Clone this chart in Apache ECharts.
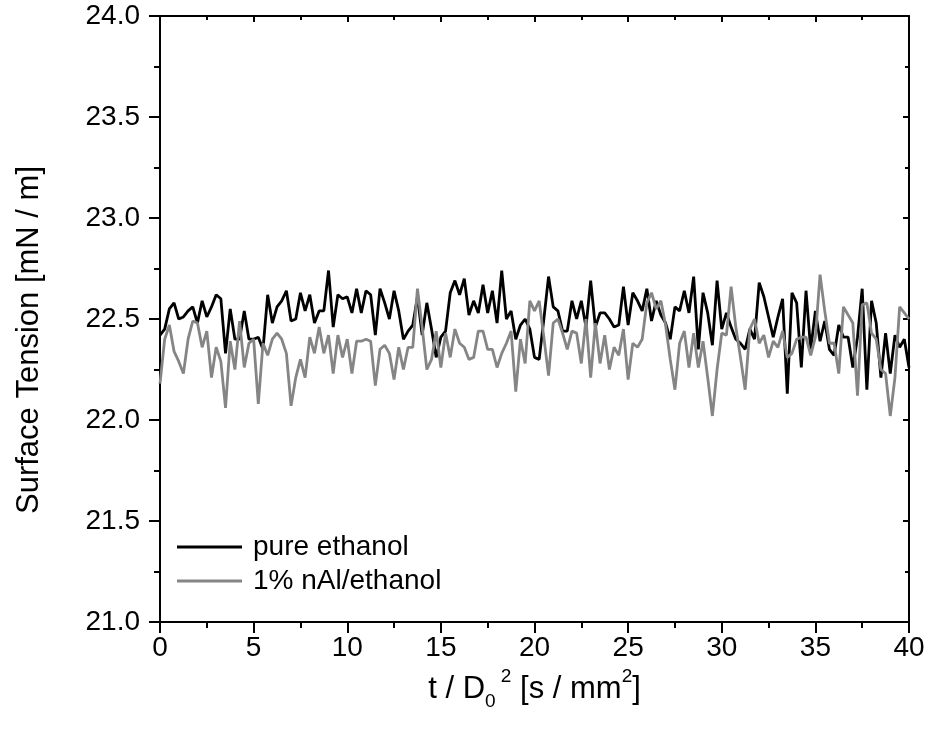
<!DOCTYPE html>
<html>
<head>
<meta charset="utf-8">
<script src="https://cdn.jsdelivr.net/npm/echarts@6/dist/echarts.min.js"></script>
<style>
html,body{margin:0;padding:0;background:#fff;}
#chart{width:929px;height:733px;}
</style>
</head>
<body>
<div id="chart"></div>
<script>
// Sampling step of the time axis, t / D0^2 [s/mm^2]
const timeStep = 0.25;
const seriesNames = ['pure ethanol', '1% nAl/ethanol'];
const xTicks = [0, 5, 10, 15, 20, 25, 30, 35, 40];
const yTicks = [21.0, 21.5, 22.0, 22.5, 23.0, 23.5, 24.0];
const yTitle = 'Surface Tension [mN / m]';

const pureEthanol = [
22.42,22.45,22.55,22.58,22.50,22.51,22.54,22.56,22.48,22.59,
22.51,22.56,22.62,22.60,22.33,22.55,22.40,22.40,22.54,22.40,
22.40,22.41,22.35,22.62,22.48,22.56,22.59,22.64,22.49,22.50,
22.63,22.54,22.62,22.48,22.54,22.54,22.74,22.46,22.62,22.60,
22.61,22.53,22.65,22.53,22.64,22.62,22.42,22.65,22.58,22.50,
22.64,22.54,22.40,22.44,22.47,22.61,22.42,22.58,22.45,22.31,
22.41,22.44,22.63,22.69,22.62,22.70,22.52,22.59,22.53,22.67,
22.53,22.64,22.48,22.74,22.50,22.54,22.40,22.47,22.50,22.45,
22.31,22.30,22.50,22.71,22.56,22.54,22.44,22.44,22.59,22.50,
22.59,22.46,22.69,22.46,22.53,22.53,22.50,22.46,22.47,22.66,
22.47,22.63,22.59,22.54,22.65,22.49,22.59,22.52,22.48,22.40,
22.56,22.54,22.64,22.53,22.71,22.35,22.63,22.53,22.37,22.69,
22.45,22.53,22.46,22.40,22.38,22.35,22.45,22.40,22.68,22.61,
22.51,22.41,22.51,22.60,22.13,22.63,22.58,22.26,22.64,22.35,
22.54,22.39,22.49,22.35,22.32,22.47,22.41,22.41,22.26,22.41,
22.65,22.15,22.59,22.48,22.21,22.43,22.23,22.42,22.36,22.40,
22.26
];

const nAlEthanol = [
22.18,22.40,22.47,22.34,22.29,22.23,22.40,22.49,22.48,22.36,
22.44,22.21,22.36,22.29,22.06,22.39,22.25,22.49,22.26,22.38,
22.40,22.08,22.38,22.32,22.40,22.43,22.40,22.33,22.07,22.21,
22.30,22.21,22.41,22.33,22.46,22.33,22.42,22.23,22.42,22.31,
22.40,22.23,22.39,22.39,22.40,22.39,22.17,22.35,22.37,22.33,
22.20,22.36,22.25,22.36,22.36,22.65,22.46,22.25,22.30,22.44,
22.26,22.43,22.31,22.45,22.38,22.36,22.30,22.31,22.44,22.44,
22.35,22.35,22.26,22.33,22.38,22.44,22.14,22.40,22.28,22.59,
22.54,22.59,22.41,22.22,22.48,22.50,22.43,22.35,22.44,22.43,
22.28,22.50,22.21,22.48,22.28,22.42,22.25,22.36,22.32,22.45,
22.20,22.38,22.36,22.40,22.58,22.63,22.55,22.59,22.47,22.30,
22.15,22.38,22.44,22.26,22.43,22.26,22.39,22.21,22.02,22.25,
22.43,22.42,22.66,22.46,22.31,22.15,22.45,22.50,22.38,22.42,
22.31,22.39,22.36,22.44,22.31,22.33,22.40,22.41,22.41,22.32,
22.41,22.72,22.54,22.38,22.38,22.23,22.56,22.52,22.48,22.12,
22.57,22.58,22.43,22.40,22.25,22.23,22.02,22.21,22.56,22.53,
22.50
];

function toPairs(values) {
  return values.map((v, i) => [i * timeStep, v]);
}

const FONT = "'Liberation Sans', Arial, sans-serif";
const chart = echarts.init(document.getElementById('chart'), null, {renderer: 'canvas'});

const axisLine = {show: true, onZero: false, lineStyle: {color: '#000', width: 2}};

chart.setOption({
  backgroundColor: '#fff',
  animation: false,
  textStyle: {fontFamily: FONT},
  grid: {left: 160, right: 20, top: 16, bottom: 111, containLabel: false},
  legend: {
    orient: 'vertical',
    left: 172,
    top: 528,
    icon: 'rect',
    itemWidth: 65,
    itemHeight: 3,
    itemGap: 6,
    data: seriesNames,
    textStyle: {fontFamily: FONT, fontSize: 28, color: '#000', padding: [0, 0, 0, 6]}
  },
  graphic: [{
    type: 'text',
    x: 29,
    y: 340,
    rotation: Math.PI / 2,
    silent: true,
    style: {
      text: yTitle,
      fontFamily: FONT,
      fontSize: 31,
      fill: '#000',
      align: 'center',
      verticalAlign: 'middle'
    }
  }],
  xAxis: [{
    type: 'value',
    min: 0, max: 40, interval: 5,
    position: 'bottom',
    axisLine: axisLine,
    axisTick: {show: true, inside: false, length: 11, lineStyle: {color: '#000', width: 2}},
    minorTick: {show: true, splitNumber: 2, length: 6, lineStyle: {color: '#000', width: 2}},
    splitLine: {show: false},
    axisLabel: {
      margin: 12, fontSize: 28, color: '#000', fontFamily: FONT,
      customValues: xTicks
    },
    name: '{n|t / D}{sub|0}{sup| 2}{n| [s / mm}{sup|2}{n|]}',
    nameLocation: 'middle',
    nameGap: 45,
    nameTextStyle: {
      fontFamily: FONT, color: '#000', fontSize: 31, lineHeight: 44,
      rich: {
        n: {fontSize: 31, fontFamily: FONT, color: '#000'},
        sub: {fontSize: 19, fontFamily: FONT, color: '#000', verticalAlign: 'bottom'},
        sup: {fontSize: 19, fontFamily: FONT, color: '#000', verticalAlign: 'top'}
      }
    }
  }, {
    type: 'value',
    min: 0, max: 40, interval: 5,
    position: 'top',
    axisLine: axisLine,
    axisTick: {show: true, inside: true, length: 6, lineStyle: {color: '#000', width: 2}},
    minorTick: {show: true, splitNumber: 2, length: 4, lineStyle: {color: '#000', width: 2}},
    splitLine: {show: false},
    axisLabel: {show: false}
  }],
  yAxis: [{
    type: 'value',
    min: 21, max: 24, interval: 0.5,
    position: 'left',
    axisLine: axisLine,
    axisTick: {show: true, inside: false, length: 11, lineStyle: {color: '#000', width: 2}},
    minorTick: {show: true, splitNumber: 2, length: 6, lineStyle: {color: '#000', width: 2}},
    splitLine: {show: false},
    axisLabel: {
      margin: 20, fontSize: 28, color: '#000', fontFamily: FONT,
      customValues: yTicks,
      formatter: v => v.toFixed(1)
    }
  }, {
    type: 'value',
    min: 21, max: 24, interval: 0.5,
    position: 'right',
    axisLine: axisLine,
    axisTick: {show: true, inside: true, length: 6, lineStyle: {color: '#000', width: 2}},
    minorTick: {show: true, splitNumber: 2, length: 4, lineStyle: {color: '#000', width: 2}},
    splitLine: {show: false},
    axisLabel: {show: false}
  }],
  series: [{
    name: seriesNames[0],
    type: 'line',
    xAxisIndex: 0, yAxisIndex: 0,
    data: toPairs(pureEthanol),
    symbol: 'none',
    lineStyle: {color: '#000000', width: 2.8},
    itemStyle: {color: '#000000'},
    z: 3
  }, {
    name: seriesNames[1],
    type: 'line',
    xAxisIndex: 0, yAxisIndex: 0,
    data: toPairs(nAlEthanol),
    symbol: 'none',
    lineStyle: {color: '#858585', width: 2.8},
    itemStyle: {color: '#858585'},
    z: 4
  }]
});
</script>
</body>
</html>
